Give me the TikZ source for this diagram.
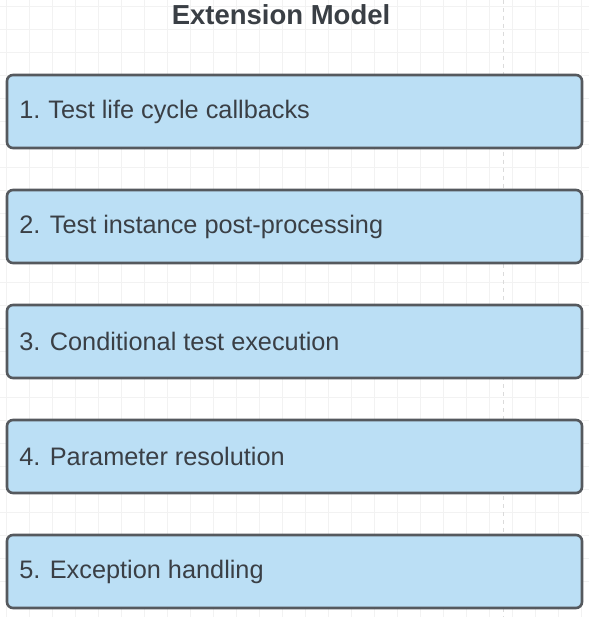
\documentclass[tikz,border=0pt]{standalone}
\usepackage{fontspec}
\setmainfont{Liberation Sans}
\definecolor{boxfill}{HTML}{BBDFF5}
\definecolor{boxline}{HTML}{55595E}
\definecolor{txt}{HTML}{3A3F45}
\definecolor{gridc}{HTML}{F2F2F2}
\begin{document}
\begin{tikzpicture}[x=1pt,y=-1pt,
  item/.style={draw=boxline,line width=2.6pt,fill=boxfill,rounded corners=6pt,
    minimum width=575pt,minimum height=73pt,inner sep=0pt},
  itemtext/.style={anchor=west,text=txt,font=\fontsize{25.3}{28}\selectfont,inner sep=0pt},
  titletext/.style={text=txt,font=\fontsize{27.5}{30}\selectfont\bfseries,inner sep=0pt}]
\useasboundingbox (0,0) rectangle (589,617);
\fill[white] (0,0) rectangle (589,617);
\foreach \i in {0,...,25} {
  \draw[gridc,line width=0.7pt] (6+23*\i,0) -- (6+23*\i,617);
  \draw[gridc,line width=0.7pt] (0,6+23*\i) -- (589,6+23*\i);
}
\draw[gridc!80!gray,line width=0.8pt,dash pattern=on 4pt off 4pt] (503,0) -- (503,617);
\node[titletext] (title) at (281,15) {Extension Model};
\node[item] (b1) at (294.5,111.5) {};
\node[item] (b2) at (294.5,226.5) {};
\node[item] (b3) at (294.5,341.5) {};
\node[item] (b4) at (294.5,456.5) {};
\node[item] (b5) at (294.5,571.5) {};
\node[itemtext] (t1) at ([xshift=13.5pt]b1.west) {1.\kern-1.5pt{} Test life cycle callbacks};
\node[itemtext] (t2) at ([xshift=13.5pt]b2.west) {2. Test instance post-processing};
\node[itemtext] (t3) at ([xshift=13.5pt]b3.west) {3. Conditional test execution};
\node[itemtext] (t4) at ([xshift=13.5pt]b4.west) {4. Parameter resolution};
\node[itemtext] (t5) at ([xshift=13.5pt]b5.west) {5. Exception handling};
\end{tikzpicture}
\end{document}
